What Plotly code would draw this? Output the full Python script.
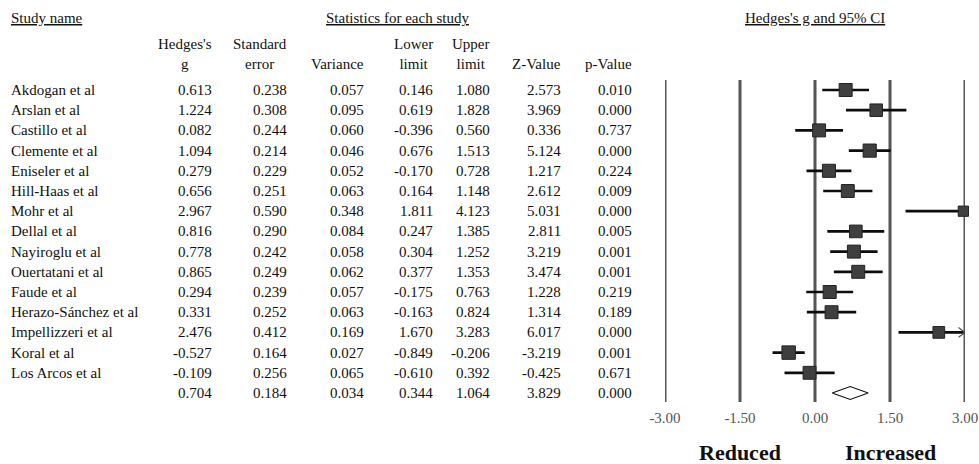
import plotly.graph_objects as go
import math

# ---------------- data ----------------
studies = ["Akdogan et al", "Arslan et al", "Castillo et al", "Clemente et al",
           "Eniseler et al", "Hill-Haas et al", "Mohr et al", "Dellal et al",
           "Nayiroglu et al", "Ouertatani et al", "Faude et al",
           "Herazo-Sánchez et al", "Impellizzeri et al", "Koral et al",
           "Los Arcos et al"]
hedges_g = [0.613, 1.224, 0.082, 1.094, 0.279, 0.656, 2.967, 0.816, 0.778,
            0.865, 0.294, 0.331, 2.476, -0.527, -0.109]
std_err = [0.238, 0.308, 0.244, 0.214, 0.229, 0.251, 0.590, 0.290, 0.242,
           0.249, 0.239, 0.252, 0.412, 0.164, 0.256]
variance = [0.057, 0.095, 0.060, 0.046, 0.052, 0.063, 0.348, 0.084, 0.058,
            0.062, 0.057, 0.063, 0.169, 0.027, 0.065]
lower_limit = [0.146, 0.619, -0.396, 0.676, -0.170, 0.164, 1.811, 0.247, 0.304,
               0.377, -0.175, -0.163, 1.670, -0.849, -0.610]
upper_limit = [1.080, 1.828, 0.560, 1.513, 0.728, 1.148, 4.123, 1.385, 1.252,
               1.353, 0.763, 0.824, 3.283, -0.206, 0.392]
z_value = [2.573, 3.969, 0.336, 5.124, 1.217, 2.612, 5.031, 2.811, 3.219,
           3.474, 1.228, 1.314, 6.017, -3.219, -0.425]
p_value = [0.010, 0.000, 0.737, 0.000, 0.224, 0.009, 0.000, 0.005, 0.001,
           0.001, 0.219, 0.189, 0.000, 0.001, 0.671]

summary_g = 0.704
summary_se = 0.184
summary_var = 0.034
summary_lower = 0.344
summary_upper = 1.064
summary_z = 3.829
summary_p = 0.000

tick_vals = [-3.0, -1.5, 0.0, 1.5, 3.0]
tick_text = ["-3.00", "-1.50", "0.00", "1.50", "3.00"]
tau2 = 0.42  # between-study variance (random effects weights)

# ---------------- layout helpers ----------------
W, H = 979, 464
FONT = "Liberation Serif, Times New Roman, serif"
TXT = "#111111"
FS = 15


def px(x):
    return x / W


def py(y):
    return 1 - y / H


row_top_px = 90.0
row_step = 20.2
dom_top, dom_bot = 80.0, 402.0
y_top = -(row_top_px - dom_top) / row_step
y_bot = y_top + (dom_bot - dom_top) / row_step

x_lo, x_hi = tick_vals[0], tick_vals[-1]

fig = go.Figure()

n = len(studies)
rows = list(range(n))
summary_row = n

# vertical reference lines at the tick values
for v in tick_vals:
    fig.add_shape(type="line", xref="x", yref="paper", x0=v, x1=v,
                  y0=py(dom_bot), y1=py(dom_top), layer="below",
                  line=dict(color="#555555", width=3))

# CI lines (clipped to axis range)
for i in rows:
    lo = max(lower_limit[i], x_lo)
    hi = min(upper_limit[i], x_hi)
    fig.add_trace(go.Scatter(x=[lo, hi], y=[i, i], mode="lines",
                             line=dict(color="#0d0d0d", width=2.7),
                             hoverinfo="skip", showlegend=False,
                             cliponaxis=False))
    if upper_limit[i] > x_hi:
        fig.add_trace(go.Scatter(x=[x_hi - 0.13, x_hi, x_hi - 0.13],
                                 y=[i - 0.24, i, i + 0.24], mode="lines",
                                 line=dict(color="#555555", width=1.2),
                                 hoverinfo="skip", showlegend=False,
                                 cliponaxis=False))

# squares sized by random-effects weight
weights = [1.0 / (v + tau2) for v in variance]
w_ref = weights[0]
sizes = [13.0 * math.sqrt(w / w_ref) for w in weights]
fig.add_trace(go.Scatter(x=hedges_g, y=rows, mode="markers",
                         marker=dict(symbol="square", size=sizes,
                                     color="#3f3f3f", opacity=1,
                                     line=dict(color="#222222", width=1)),
                         cliponaxis=False, hoverinfo="skip", showlegend=False))

# summary diamond
dh = 0.32
fig.add_trace(go.Scatter(
    x=[summary_lower, summary_g, summary_upper, summary_g, summary_lower],
    y=[summary_row, summary_row - dh, summary_row, summary_row + dh, summary_row],
    mode="lines", fill="toself", fillcolor="white",
    line=dict(color="#111111", width=1.2), cliponaxis=False,
    hoverinfo="skip", showlegend=False))

# ---------------- table ----------------
col_right = [213, 288, 365, 434, 491, 562, 633]
columns = [hedges_g, std_err, variance, lower_limit, upper_limit, z_value, p_value]
summary_vals = [summary_g, summary_se, summary_var, summary_lower,
                summary_upper, summary_z, summary_p]

ann = []


def add_text(text, x, y, xanchor="left", yref="paper", size=FS, bold=False,
             color=TXT, align="left", yanchor="middle"):
    if bold:
        text = "<b>" + text + "</b>"
    ann.append(dict(text=text, x=x, y=y, xref="paper", yref=yref,
                    xanchor=xanchor, yanchor=yanchor, showarrow=False,
                    align=align, borderpad=0,
                    font=dict(family=FONT, size=size, color=color)))


for i in rows:
    add_text(studies[i], px(10), i, yref="y")
    for c, vals in enumerate(columns):
        add_text(f"{vals[i]:.3f}", px(col_right[c]), i, xanchor="right", yref="y")
for c, v in enumerate(summary_vals):
    add_text(f"{v:.3f}", px(col_right[c]), summary_row, xanchor="right", yref="y")

# headers
two_line = {0: "Hedges's<br>g", 1: "Standard<br>error", 3: "Lower<br>limit",
            4: "Upper<br>limit"}
one_line = {2: "Variance", 5: "Z-Value", 6: "p-Value"}
for c, t in two_line.items():
    add_text(t, px(col_right[c]), py(54), xanchor="right", align="center")
for c, t in one_line.items():
    add_text(t, px(col_right[c]), py(64), xanchor="right")

# section titles
add_text("<u>Study name</u>", px(10), py(18))
add_text("<u>Statistics for each study</u>", px(397), py(18), xanchor="center")
add_text("<u>Hedges's g and 95% CI</u>", px(815), py(18), xanchor="center")

# direction labels
add_text("Reduced", px(740), py(452), xanchor="center", size=22, bold=True)
add_text("Increased", px(890), py(452), xanchor="center", size=22, bold=True)

fig.update_layout(
    width=W, height=H,
    margin=dict(l=0, r=0, t=0, b=0, autoexpand=False),
    paper_bgcolor="white", plot_bgcolor="white",
    annotations=ann,
    hovermode=False,
    xaxis=dict(domain=[px(665), px(965)], range=[x_lo, x_hi],
               tickvals=tick_vals, ticktext=tick_text,
               showgrid=False, zeroline=False, showline=False, ticks="",
               tickfont=dict(family=FONT, size=FS, color="#555555"),
               ticklabelstandoff=5, fixedrange=True, automargin=False),
    yaxis=dict(domain=[py(dom_bot), py(dom_top)], range=[y_bot, y_top],
               showgrid=False, zeroline=False, showline=False,
               showticklabels=False, ticks="", fixedrange=True,
               automargin=False),
)

fig.write_html(
    "out.html",
    config={"displayModeBar": False, "staticPlot": True},
    post_script="document.body.style.margin='0';"
                "document.body.style.overflow='hidden';",
)
